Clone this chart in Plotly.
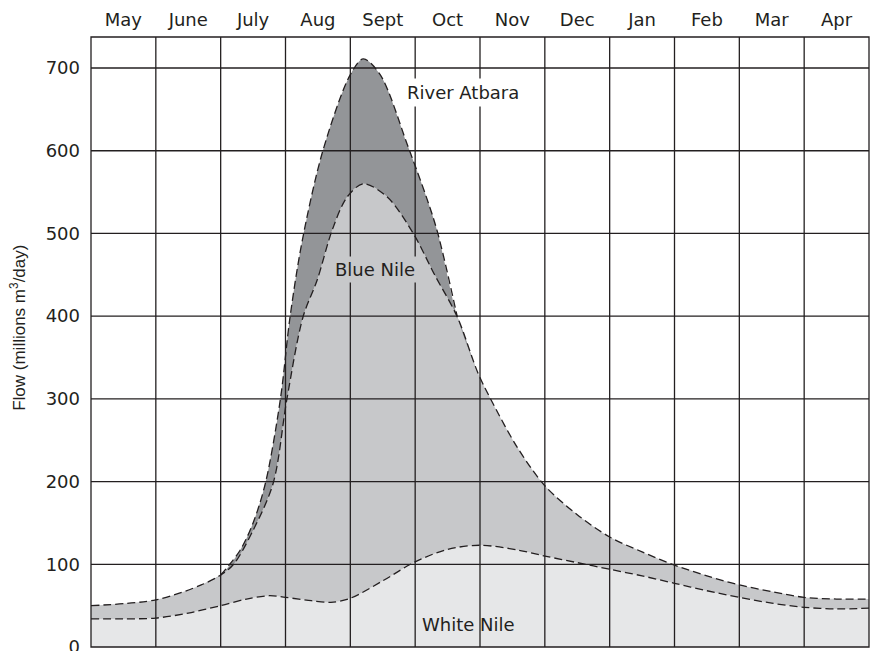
import plotly.graph_objects as go

# ---- data (month index: 0 = start of May, 12 = end of April) ----
months = ["May", "June", "July", "Aug", "Sept", "Oct", "Nov", "Dec", "Jan", "Feb", "Mar", "Apr"]
y_ticks = [0, 100, 200, 300, 400, 500, 600, 700]

white_nile_x = [0, 0.5, 1.0, 1.5, 2.0, 2.4, 2.75, 3.0, 3.4, 3.7, 4.0, 4.5, 5.0, 5.5, 6.0,
                6.6, 7.0, 7.5, 8.0, 8.5, 9.0, 9.5, 10.0, 10.5, 11.0, 11.5, 12.0]
white_nile_y = [34, 34, 35, 41, 50, 58, 62, 60, 56, 54, 59, 80, 103, 118, 123,
                117, 110, 102, 94, 86, 77, 68, 60, 53, 48, 46, 47]

blue_nile_total_x = [0, 1.0, 1.7, 2.0, 2.2, 2.5, 2.81, 3.02, 3.27, 3.49, 3.72, 3.95, 4.2,
                     4.57, 4.97, 5.3, 5.65, 5.97, 6.17, 6.57, 7.0, 7.5, 8.0, 8.5, 9.0,
                     9.5, 10.0, 10.5, 11.0, 11.5, 12.0]
blue_nile_total_y = [50, 57, 75, 87, 100, 141, 198, 299, 399, 444, 504, 544, 560,
                     544, 500, 450, 399, 331, 299, 242, 195, 160, 133, 115, 99,
                     86, 75, 67, 60, 58, 58]

atbara_total_x = [0, 1.0, 1.7, 2.0, 2.3, 2.5, 2.69, 2.92, 3.07, 3.26, 3.58, 4.0, 4.2,
                  4.46, 4.89, 5.19, 5.35, 5.65, 5.97, 6.17, 6.57, 7.0, 7.5, 8.0, 8.5,
                  9.0, 9.5, 10.0, 10.5, 11.0, 11.5, 12.0]
atbara_total_y = [50, 57, 75, 87, 117, 150, 198, 299, 399, 492, 601, 692, 711,
                  692, 605, 540, 500, 399, 331, 299, 242, 195, 160, 133, 115,
                  99, 86, 75, 67, 60, 58, 58]

INK = "#231f20"
FONT = "DejaVu Sans, Liberation Sans, Arial, sans-serif"
TITLE_FONT = "Liberation Sans, Arial, Helvetica, sans-serif"
DASH = "8px,4px"
SMOOTH = 0.9
LABEL_SIZE = 18

fig = go.Figure()

# White Nile area
fig.add_trace(go.Scatter(
    x=white_nile_x, y=white_nile_y, mode="lines", fill="tozeroy",
    fillcolor="#e6e7e8", line=dict(color=INK, width=1.3, dash=DASH, shape="spline", smoothing=SMOOTH),
    hoverinfo="skip", showlegend=False))

# Blue Nile (stacked total)
fig.add_trace(go.Scatter(
    x=blue_nile_total_x, y=blue_nile_total_y, mode="lines", fill="tonexty",
    fillcolor="#c7c8ca", line=dict(color=INK, width=1.3, dash=DASH, shape="spline", smoothing=SMOOTH),
    hoverinfo="skip", showlegend=False))

# River Atbara (stacked total) - fill only
fig.add_trace(go.Scatter(
    x=atbara_total_x, y=atbara_total_y, mode="lines", fill="tonexty",
    fillcolor="#939598", line=dict(color="rgba(0,0,0,0)", width=0, shape="spline", smoothing=SMOOTH),
    hoverinfo="skip", showlegend=False))

# River Atbara dashed outline only where it separates from the Blue Nile curve
sep = [i for i, xv in enumerate(atbara_total_x) if 2.0 <= xv <= 5.65]
fig.add_trace(go.Scatter(
    x=[atbara_total_x[i] for i in sep], y=[atbara_total_y[i] for i in sep], mode="lines",
    line=dict(color=INK, width=1.3, dash=DASH, shape="spline", smoothing=SMOOTH),
    hoverinfo="skip", showlegend=False))

# grid lines drawn above the filled areas
shapes = []
for k in range(1, len(months)):
    shapes.append(dict(type="line", xref="x", yref="paper", x0=k, x1=k, y0=0, y1=1,
                       line=dict(color=INK, width=1.3), layer="above"))
for v in y_ticks[1:]:
    shapes.append(dict(type="line", xref="paper", yref="y", x0=0, x1=1, y0=v, y1=v,
                       line=dict(color=INK, width=1.3), layer="above"))
shapes.append(dict(type="rect", xref="paper", yref="paper", x0=0, x1=1, y0=0, y1=1,
                   line=dict(color=INK, width=1.3), layer="above"))

annotations = [
    dict(x=5.73, y=670, xref="x", yref="y", text="River Atbara", showarrow=False,
         font=dict(size=LABEL_SIZE, color=INK, family=FONT), bgcolor="white", borderpad=3),
    dict(x=4.38, y=456, xref="x", yref="y", text="Blue Nile", showarrow=False,
         font=dict(size=LABEL_SIZE, color=INK, family=FONT), bgcolor="#c7c8ca", borderpad=2),
    dict(x=5.82, y=27, xref="x", yref="y", text="White Nile", showarrow=False,
         font=dict(size=LABEL_SIZE, color=INK, family=FONT)),
    dict(x=-0.094, y=0.523, xref="paper", yref="paper", text="Flow (millions m<sup>3</sup>/day)",
         textangle=-90, showarrow=False, xanchor="center", yanchor="middle",
         font=dict(size=17, color=INK, family=TITLE_FONT)),
]

fig.update_layout(
    width=871, height=651,
    margin=dict(l=91, r=2, t=37, b=4, autoexpand=False),
    paper_bgcolor="white", plot_bgcolor="white",
    font=dict(family=FONT, size=LABEL_SIZE, color=INK),
    shapes=shapes, annotations=annotations,
    xaxis=dict(range=[0, 12], side="top", tickvals=[i + 0.5 for i in range(12)],
               ticktext=months, showgrid=False, zeroline=False, ticks="",
               showline=False, fixedrange=True, ticklabelstandoff=6, automargin=False),
    yaxis=dict(range=[0, 737.5], tickvals=y_ticks, ticktext=[str(v) for v in y_ticks],
               showgrid=False, zeroline=False, ticks="", showline=False,
               ticklabelstandoff=10, automargin=False, ticklabeloverflow="allow"),
)

fig.write_html("out.html", config={"displayModeBar": False},
               post_script="document.body.style.margin='0';document.body.style.overflow='hidden';")
